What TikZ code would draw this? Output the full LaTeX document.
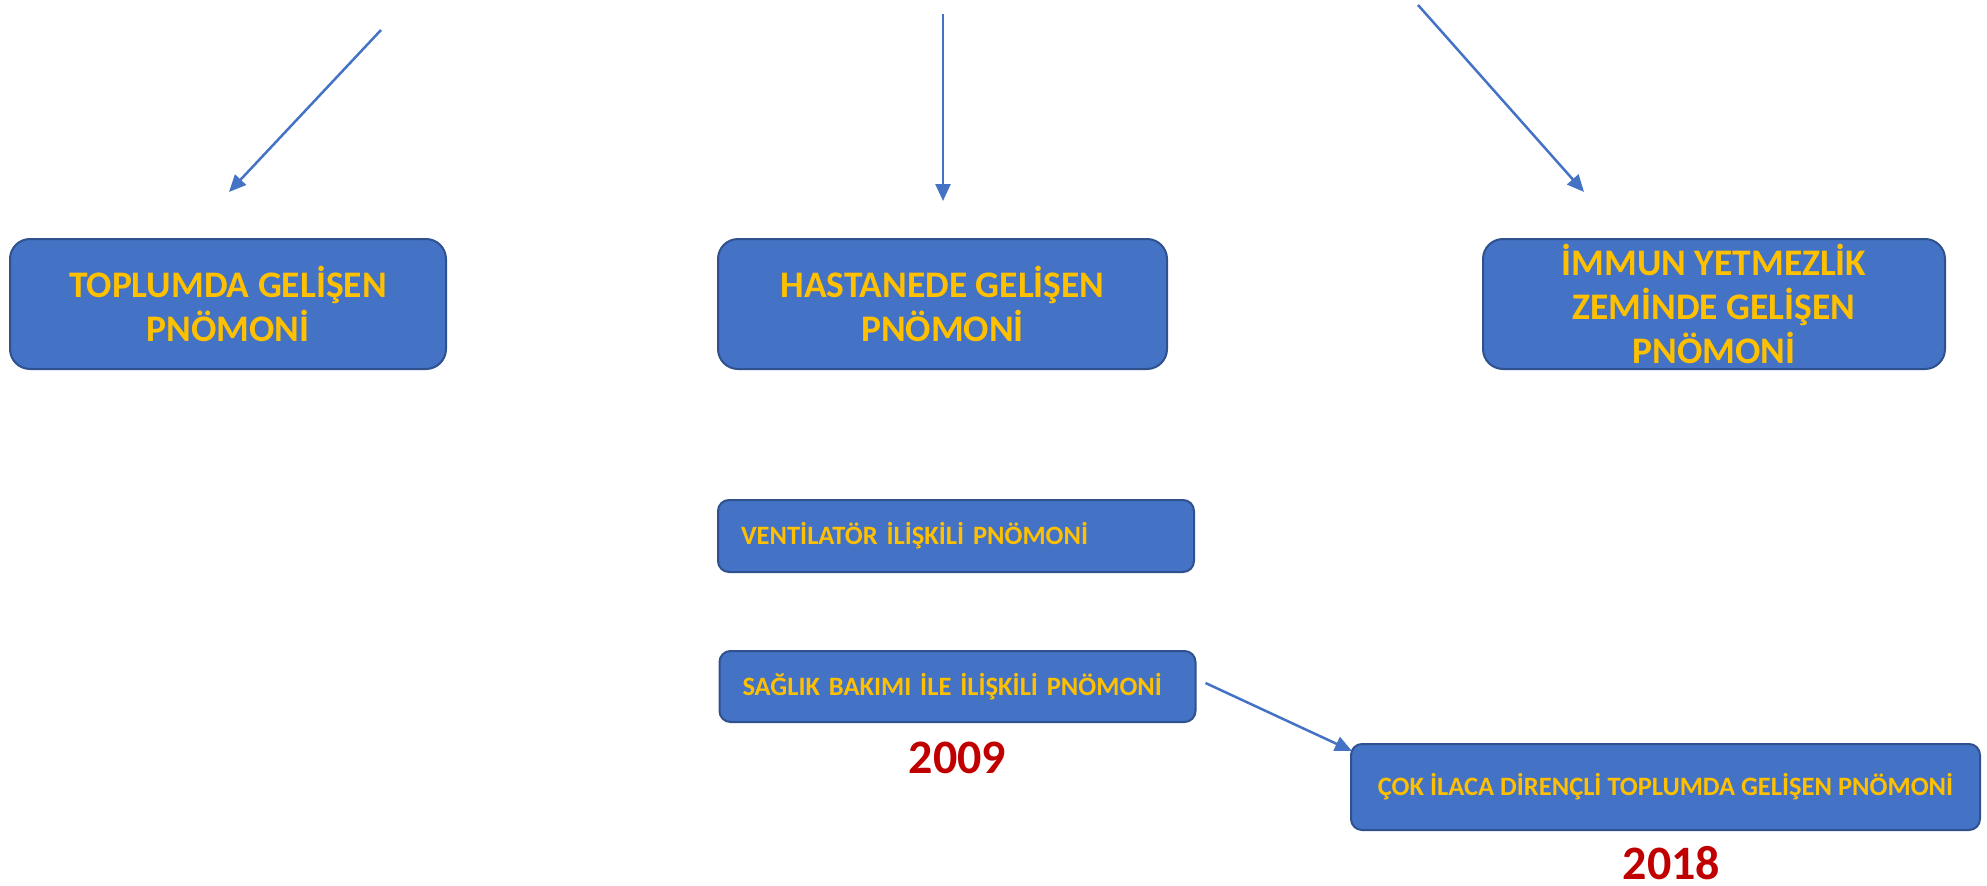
\documentclass[tikz,border=0pt]{standalone}
\usepackage{fontspec}
\setmainfont{Carlito}
\usepackage{tikz}
\usetikzlibrary{positioning, arrows.meta}
\tikzstyle{canvas} = [x = 1pt, y = -1pt]
\definecolor{boxColor}{RGB}{68,114,196}
\definecolor{boxBorderColor}{RGB}{47,82,143}
\definecolor{labelColor}{RGB}{255,192,0}
\definecolor{yearColor}{RGB}{192,0,0}
\tikzstyle{bigBox} = [draw=boxBorderColor, fill=boxColor, line width=2pt, rounded corners=20pt, minimum height=130pt, inner sep=0pt, align=center, text=labelColor, font=\bfseries\fontsize{37.5}{44}\selectfont]
\tikzstyle{smallBox} = [draw=boxBorderColor, fill=boxColor, line width=2pt, rounded corners=11pt, minimum height=72pt, inner ysep=0pt, text=labelColor, font=\bfseries\fontsize{26.5}{31}\selectfont]
\tikzstyle{leftText} = [text width=430pt, inner xsep=23pt, align=left]
\tikzstyle{yearText} = [text=yearColor, inner sep=1pt, font=\bfseries\fontsize{48}{58}\selectfont]
\tikzstyle{arrowLine} = [draw=boxColor, line width=2.5pt, -{Triangle[length=17pt, width=15pt]}]

\begin{document}
\begin{tikzpicture}[canvas]
  \useasboundingbox (0,0) rectangle (1987,886);

  % three kinds of pneumonia
  \node [bigBox, minimum width=436pt] (community) at (228,304) {TOPLUMDA GELİŞEN\\PNÖMONİ};
  \node [bigBox, minimum width=449pt] (hospital) at (942.5,304) {HASTANEDE GELİŞEN\\PNÖMONİ};
  \node [bigBox, minimum width=462pt] (immune) at (1714,304) {İMMUN YETMEZLİK\\ZEMİNDE GELİŞEN\\PNÖMONİ};

  \coordinate (communityTail) at (381,30);
  \coordinate (communityHead) at (229,192);
  \coordinate (hospitalTail) at (943,14);
  \coordinate (hospitalHead) at (943,201);
  \coordinate (immuneTail) at (1418,5);
  \coordinate (immuneHead) at (1584,192);
  \draw [arrowLine] (communityTail) -- (communityHead);
  \draw [arrowLine] (hospitalTail) -- (hospitalHead);
  \draw [arrowLine] (immuneTail) -- (immuneHead);

  % sub types
  \node [smallBox, leftText] (ventilator) at (956,536) {VENTİLATÖR İLİŞKİLİ PNÖMONİ};
  \node [smallBox, leftText, minimum height=71pt] (care) at (957.5,686.5) {SAĞLIK BAKIMI İLE İLİŞKİLİ PNÖMONİ};
  \node [smallBox, minimum width=629pt, minimum height=86pt] (resistant) at (1665.5,787) {ÇOK İLACA DİRENÇLİ TOPLUMDA GELİŞEN PNÖMONİ};

  \draw [arrowLine] ([xshift=9pt, yshift=3.5pt]care.east) -- ([xshift=2pt, yshift=-8pt]resistant.north west);

  \node [yearText, below=18pt of care] (careYear) {2009};
  \node [yearText, below=14pt of resistant, xshift=6pt] (resistantYear) {2018};
\end{tikzpicture}
\end{document}
